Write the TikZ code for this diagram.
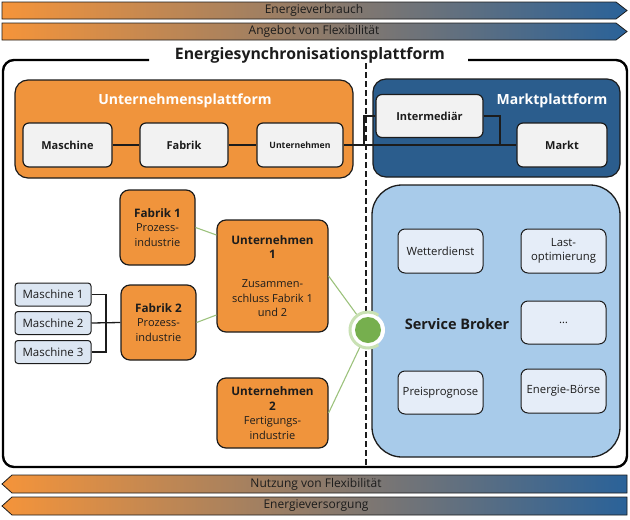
\documentclass[tikz,border=0pt]{standalone}
\usepackage{fontspec}
\setmainfont{Open Sans}
\usetikzlibrary{calc}
\definecolor{orng}{HTML}{F0943C}
\definecolor{barorng}{HTML}{F5943A}
\definecolor{barblue}{HTML}{2A6299}
\definecolor{mblue}{HTML}{2B5D8D}
\definecolor{sbblue}{HTML}{A8CBEA}
\definecolor{gbox}{HTML}{F2F2F2}
\definecolor{mbox}{HTML}{DCE6F2}
\definecolor{sbox}{HTML}{E5EDF8}
\definecolor{dk}{HTML}{1C1C1C}
\definecolor{gline}{HTML}{9CC27C}
\definecolor{ballc}{HTML}{76AF4E}
\definecolor{ringc}{HTML}{C9E1B4}
\newcommand\obfont{\bfseries\fontsize{11.7}{14.5}\selectfont}
\begin{document}
\begin{tikzpicture}[x=1pt,y=-1pt,
  every node/.style={font=\fontsize{10.5}{14}\selectfont, text=dk, inner sep=0pt},
  bar/.style={draw=dk, line width=0.8pt, left color=barorng, right color=barblue},
  bartext/.style={font=\fontsize{12}{13}\selectfont, text=dk},
  plat/.style={draw=dk, line width=1.2pt, rounded corners=13pt},
  plattitle/.style={font=\bfseries\fontsize{14}{16}\selectfont, text=white},
  gbx/.style={draw=dk, line width=1.2pt, fill=gbox, rounded corners=6pt, font=\bfseries\fontsize{11}{14}\selectfont},
  obx/.style={draw=dk, line width=1.2pt, fill=orng, rounded corners=9pt, align=center, font=\fontsize{11}{14.5}\selectfont},
  mbx/.style={draw=dk, line width=1pt, fill=mbox, rounded corners=3pt, font=\fontsize{11.5}{13}\selectfont},
  sbx/.style={draw=dk, line width=1pt, fill=sbox, rounded corners=7pt, align=center, font=\fontsize{11.3}{14.5}\selectfont},
  conn/.style={draw=dk, line width=1.3pt},
  gconn/.style={draw=gline, line width=1.1pt},
  frame/.style={draw=black, line width=2.4pt, rounded corners=11pt}
]
\useasboundingbox (0,0) rectangle (630,520);

% ---- top bars
\path[bar] (2,2) -- (616,2) -- (627,10.5) -- (616,19) -- (2,19) -- cycle;
\node[bartext] (bar1) at (314,10.5) {Energieverbrauch};
\path[bar] (2,23) -- (616,23) -- (627,31.5) -- (616,40) -- (2,40) -- cycle;
\node[bartext] (bar2) at (314,31.5) {Angebot von Flexibilität};

% ---- bottom bars
\path[bar] (627,475) -- (12,475) -- (2,484) -- (12,493) -- (627,493) -- cycle;
\node[bartext] (bar3) at (316,484) {Nutzung von Flexibilität};
\path[bar] (627,497) -- (12,497) -- (2,506) -- (12,515) -- (627,515) -- cycle;
\node[bartext] (bar4) at (316,506) {Energieversorgung};

% ---- main frame
\node[font=\bfseries\fontsize{15.8}{18}\selectfont] (title) at (310,55) {Energiesynchronisationsplattform};
\coordinate (fl) at (149,60);
\coordinate (fr) at (468,60);
\draw[frame] (fl) -- (3,60) -- (3,467) -- (627,467) -- (627,60) -- (fr);

% ---- dashed separator
\coordinate (dtop) at (366,63);
\coordinate (dbot) at (366,466);
\draw[dk, line width=1.2pt, dash pattern=on 5.5pt off 3.5pt] (dtop) -- (dbot);

% ---- Unternehmensplattform
\node[plat, fill=orng, minimum width=338pt, minimum height=98pt] (uplat) at (184,129) {};
\node[plattitle] (uptitle) at (185,101) {Unternehmensplattform};
\node[gbx, minimum width=89pt, minimum height=44pt] (masch) at (67.5,145) {Maschine};
\node[gbx, minimum width=88pt, minimum height=44pt] (fab) at (184,145) {Fabrik};
\node[gbx, minimum width=86pt, minimum height=44pt, font=\bfseries\fontsize{8.7}{10}\selectfont] (unt) at (300,145) {Unternehmen};

% ---- Marktplattform
\node[plat, fill=mblue, minimum width=247pt, minimum height=98pt] (mplat) at (496.5,128) {};
\node[plattitle] (mptitle) at (552,101) {Marktplattform};
\node[gbx, minimum width=107pt, minimum height=43pt] (inter) at (429.5,116) {Intermediär};
\node[gbx, minimum width=90pt, minimum height=44pt] (markt) at (562,145) {Markt};

% connectors top
\draw[conn] (masch) -- (fab);
\draw[conn] (fab) -- (unt);
\draw[conn] (unt.east) -- (markt.west);
\coordinate (br1) at (364,145);
\coordinate (br2) at (500,145);
\draw[conn] (br1) |- (inter.west);
\draw[conn] (inter.east) -| (br2);

% ---- Service Broker
\node[draw=dk, line width=1.3pt, fill=sbblue, rounded corners=30pt, minimum width=248pt, minimum height=272pt] (sb) at (496,321) {};
\node[font=\bfseries\fontsize{14.5}{16}\selectfont] (sbtitle) at (457,324) {Service Broker};
\node[sbx, minimum width=85pt, minimum height=44pt] (wetter) at (440.5,251) {Wetterdienst};
\node[sbx, minimum width=85pt, minimum height=44pt] (last) at (563.5,251) {Last-\\optimierung};
\node[sbx, minimum width=85pt, minimum height=43pt] (dots) at (563.5,322.5) {\dots};
\node[sbx, minimum width=85pt, minimum height=43pt] (preis) at (440.5,392.5) {Preisprognose};
\node[sbx, minimum width=85pt, minimum height=44pt] (boerse) at (563.5,391) {Energie-Börse};

% ---- companies
\node[obx, minimum width=75pt, minimum height=75pt] (fab1) at (157.5,227.5) {{\obfont Fabrik 1}\\Prozess-\\industrie};
\node[obx, minimum width=75pt, minimum height=75pt] (fab2) at (158.5,322.5) {{\obfont Fabrik 2}\\Prozess-\\industrie};
\node[obx, minimum width=111pt, minimum height=112pt] (unt1) at (272.5,276) {{\obfont Unternehmen}\\{\obfont 1}\\[14.5pt]Zusammen-\\schluss Fabrik 1\\und 2};
\node[obx, minimum width=111pt, minimum height=70pt] (unt2) at (272.5,413) {{\obfont Unternehmen}\\{\obfont 2}\\Fertigungs-\\industrie};

% ---- machines
\node[mbx, minimum width=76pt, minimum height=23pt] (m1) at (53,294.5) {Maschine 1};
\node[mbx, minimum width=76pt, minimum height=23pt] (m2) at (53,323) {Maschine 2};
\node[mbx, minimum width=76pt, minimum height=23pt] (m3) at (53,352) {Maschine 3};
\coordinate (mt) at (106,294.5);
\coordinate (mb) at (106,352);
\draw[conn] (m1.east) -- (mt) -- (mb) -- (m3.east);
\draw[conn] (m2.east) -- (fab2.west);

% ---- green connectors and interface ball
\coordinate (ballc) at (368,330);
\draw[gconn] (fab1.east) -- ([yshift=41pt]unt1.west);
\draw[gconn] (fab2.east) -- ([yshift=-39pt]unt1.west);
\draw[gconn] (unt1.east) -- (ballc);
\draw[gconn] (unt2.east) -- (ballc);
\fill[white] (ballc) circle[radius=17];
\draw[ringc, line width=3pt] (ballc) ++(55:18) arc[start angle=55, end angle=305, radius=18];
\node[circle, fill=ballc, minimum size=26pt] (ball) at (ballc) {};
\end{tikzpicture}
\end{document}
